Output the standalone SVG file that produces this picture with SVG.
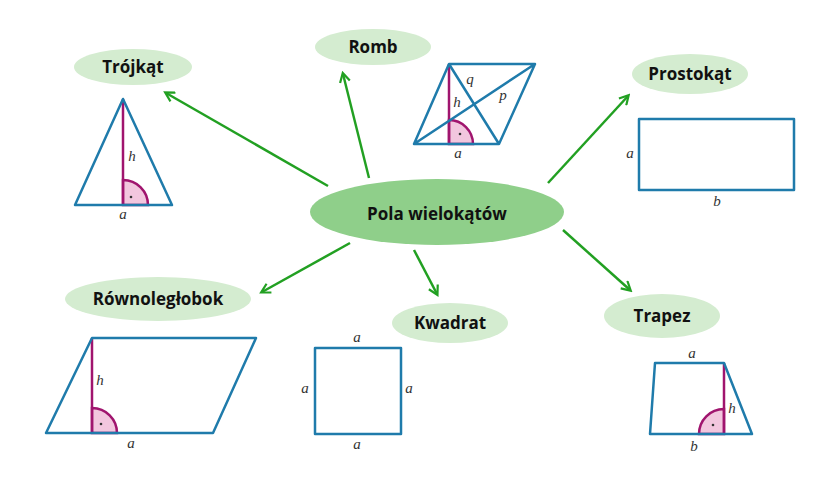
<svg xmlns="http://www.w3.org/2000/svg" width="840" height="480" viewBox="0 0 840 480">
<style>
.pill{fill:#d4ecd0}
.lbl{font-family:"Open Sans",sans-serif;font-weight:bold;font-size:17px;fill:#111;text-anchor:middle}
.sh{fill:none;stroke:#1f7bab;stroke-width:2.5;stroke-linejoin:round}
.h{stroke:#a0146e;stroke-width:2.5;fill:none}
.arc{fill:#f2c6de;stroke:#a0146e;stroke-width:2.5}
.m{font-family:"Liberation Serif",serif;font-style:italic;font-size:15px;fill:#333;text-anchor:middle}
.con{stroke:#22a022;stroke-width:2.5;fill:none;marker-end:url(#ah)}
</style>
<defs><marker id="ah" markerWidth="12" markerHeight="12" refX="9" refY="6" orient="auto" markerUnits="userSpaceOnUse"><path d="M1,1 L10,6 L1,11" fill="none" stroke="#22a022" stroke-width="2.2"/></marker></defs>
<rect width="840" height="480" fill="#fff"/>
<g id="connectors">
<line class="con" x1="328" y1="186" x2="166" y2="93"/>
<line class="con" x1="369" y1="178" x2="343" y2="74"/>
<line class="con" x1="548" y1="183" x2="628" y2="96"/>
<line class="con" x1="350" y1="243" x2="262" y2="292"/>
<line class="con" x1="414" y1="250" x2="437" y2="294"/>
<line class="con" x1="563" y1="230" x2="630" y2="290"/>
</g>
<g id="center"><ellipse cx="437" cy="212" rx="127" ry="33" fill="#8fcf8a"/><text class="lbl" x="437" y="220" font-size="22">Pola wielokątów</text></g>
<g id="trojkat"><ellipse class="pill" cx="133" cy="67" rx="59" ry="18"/><text class="lbl" x="133" y="73">Trójkąt</text>
<path class="arc" d="M123,180 A25,25 0 0 1 148,205 L123,205Z"/><circle cx="131" cy="197" r="1.3" fill="#333"/>
<line class="h" x1="123" y1="99" x2="123" y2="205"/>
<path class="sh" d="M123,99 L172,205 L75,205Z"/>
<text class="m" x="132" y="161">h</text><text class="m" x="123" y="219">a</text></g>
<g id="romb"><ellipse class="pill" cx="373" cy="47" rx="58" ry="18"/><text class="lbl" x="373" y="53">Romb</text>
<path class="arc" d="M449,120 A24,24 0 0 1 473,144 L449,144Z"/><circle cx="460" cy="134" r="1.3" fill="#333"/>
<line class="h" x1="449" y1="64" x2="449" y2="144"/>
<path class="sh" d="M449,64 L535,64 L499,144 L414,144Z M414,144 L535,64 M449,64 L499,144"/>
<text class="m" x="470" y="84">q</text><text class="m" x="457" y="107">h</text><text class="m" x="503" y="100">p</text><text class="m" x="458" y="158">a</text></g>
<g id="prostokat"><ellipse class="pill" cx="690" cy="74" rx="58" ry="20"/><text class="lbl" x="690" y="80">Prostokąt</text>
<rect class="sh" x="639" y="119" width="155" height="71"/>
<text class="m" x="630" y="158">a</text><text class="m" x="717" y="206">b</text></g>
<g id="rownoleglobok"><ellipse class="pill" cx="158" cy="299" rx="93" ry="22"/><text class="lbl" x="158" y="305">Równoległobok</text>
<path class="arc" d="M92,408 A25,25 0 0 1 117,433 L92,433Z"/><circle cx="101" cy="424" r="1.3" fill="#333"/>
<line class="h" x1="92" y1="338" x2="92" y2="433"/>
<path class="sh" d="M92,338 L256,338 L213,433 L46,433Z"/>
<text class="m" x="100" y="385">h</text><text class="m" x="131" y="448">a</text></g>
<g id="kwadrat"><ellipse class="pill" cx="450" cy="323" rx="58" ry="20"/><text class="lbl" x="450" y="329">Kwadrat</text>
<rect class="sh" x="315" y="348" width="86" height="86"/>
<text class="m" x="357" y="342">a</text><text class="m" x="305" y="393">a</text><text class="m" x="409" y="393">a</text><text class="m" x="357" y="449">a</text></g>
<g id="trapez"><ellipse class="pill" cx="662" cy="316" rx="58" ry="22"/><text class="lbl" x="662" y="322">Trapez</text>
<path class="arc" d="M724,409 A25,25 0 0 0 699,434 L724,434Z"/><circle cx="713" cy="425" r="1.3" fill="#333"/>
<line class="h" x1="724" y1="363" x2="724" y2="434"/>
<path class="sh" d="M655,363 L724,363 L752,434 L650,434Z"/>
<text class="m" x="692" y="358">a</text><text class="m" x="732" y="413">h</text><text class="m" x="694" y="451">b</text></g>
</svg>
